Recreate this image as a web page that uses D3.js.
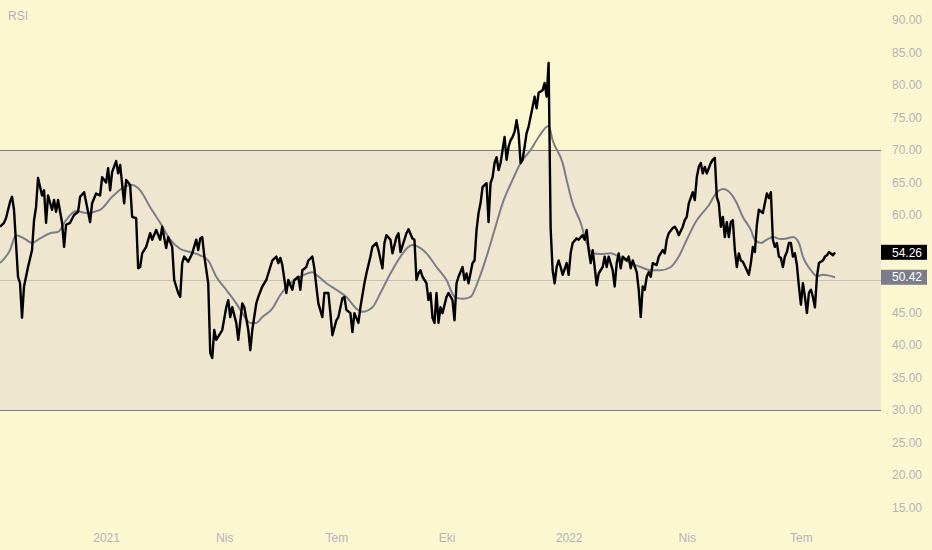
<!DOCTYPE html>
<html>
<head>
<meta charset="utf-8">
<script src="https://cdn.jsdelivr.net/npm/d3@7"></script>
<style>
  html, body { margin: 0; padding: 0; background: #fbf7d1; }
  svg { display: block; font-family: 'Liberation Sans', Arial, sans-serif; }
  .axis text { fill: #b4b5b8; font-size: 12px; }
  .axis path { display: none; }
</style>
</head>
<body>
<script>
// RSI (14) values by session index
var rsi = [
  [0,58.2],[2,58.8],[3,59.5],[5,62],[6,62.8],[7,60.8],[9,50.5],[10,49.5],[11,44.2],[12,49],
  [14,52],[16,54.6],[17,59.2],[18,61.2],[19,65.7],[21,63],[22,63.8],[23,58.8],[24,63],[26,60.8],
  [27,62.3],[28,60.5],[29,62.3],[31,58.8],[32,55.1],[33,58.5],[35,58.8],[37,60],[39,60.5],[40,62.8],
  [42,63.5],[43,62],[45,58.9],[46,61.8],[48,63.3],[50,63],[51,65.8],[53,65],[54,67.2],[55,63.8],
  [56,66.6],[58,68.3],[59,66.4],[60,67.7],[62,61.8],[63,65.4],[65,64.6],[66,59.7],[68,59.5],[69,51.8],
  [70,52],[71,54.1],[73,55.1],[75,57.2],[76,56.2],[78,57.7],[80,56.2],[81,58.2],[83,54.9],[84,56.6],
  [86,55.1],[87,50],[89,48],[90,47.4],[91,52.6],[92,53.6],[94,52.8],[96,54.1],[98,56.2],[99,54.6],
  [100,56.4],[101,56.6],[102,53.8],[104,49.5],[105,38.8],[106,38],[107,42.3],[108,40.8],[110,41.8],[111,42.3],
  [113,45.8],[114,46.9],[115,44.3],[116,45.8],[118,43.4],[119,40.8],[121,46.4],[122,45.8],[124,42.3],[125,39.2],
  [126,42.3],[128,46.4],[129,47.4],[131,49],[133,50],[134,51],[136,53],[138,53.6],[139,52.6],
  [140,53.4],[141,52.3],[143,48],[144,50],[146,48.5],[147,50],[149,50.5],[150,48.5],[151,51.5],[153,52],
  [154,53],[156,53.6],[157,51.8],[158,49],[159,46.4],[161,44.3],[162,48],[164,48],[165,44.9],[166,41.5],
  [168,43.8],[169,44.3],[171,47.2],[172,47.4],[173,45.4],[175,44.9],[176,42],[177,44.9],[179,43.4],[180,45.8],
  [182,49.5],[183,51],[185,53.6],[186,55.1],[188,55.7],[189,54.6],[191,51.8],[192,55.7],[193,56.9],[195,56.2],
  [196,54.1],[198,56.6],[199,57.2],[200,54.3],[202,56.2],[203,57.2],[204,57.8],[206,56.4],[207,56.2],[208,50],
  [209,51],[210,51.5],[211,50.5],[213,49.5],[214,46.9],[215,48],[216,44.2],[217,43.4],[218,48],[219,43.4],
  [220,45.8],[221,44.9],[223,47.4],[224,48],[226,46.9],[227,43.8],[228,49.5],[229,50.5],[231,52],[232,50],
  [233,51],[234,49.5],[236,52.6],[237,53],[238,57.7],[239,60.3],[240,61.8],[241,64.3],[243,64.9],[244,58.9],
  [245,64.9],[246,65.8],[247,68],[248,68.9],[249,66.9],[250,68],[251,70],[252,72],[253,68.5],[254,70.5],
  [255,71.5],[256,72],[257,72.8],[258,74.6],[259,72.6],[260,68],[261,68.5],[262,70.5],[263,72.6],[264,73.6],
  [265,75.1],[266,76.6],[267,78.2],[268,76.4],[269,78.8],[271,79.2],[272,80.3],[273,78.2],[274,83.4],[275,58],
  [276,51.5],[277,49.5],[278,52],[279,53],[280,52],[281,50.8],[283,52.6],[284,50.8],[285,54.1],[286,55.7],
  [288,56.4],[289,56.2],[291,56.9],[292,56.2],[293,57.7],[294,54.6],[295,52.6],[296,54.6],[297,52],[298,49.2],
  [299,51],[301,52],[302,53.6],[303,52],[304,53.6],[306,51.5],[307,49],[308,52.6],[309,54.1],[310,51.8],
  [311,53.6],[313,53],[314,53.6],[315,51.8],[316,53],[318,51.2],[319,48.5],[320,44.3],[321,49],[322,48.5],
  [323,50.5],[324,51.2],[325,50.5],[326,52.6],[328,52.3],[329,53.6],[331,54.6],[332,54.1],[333,56.2],[334,57.2],
  [336,58],[337,58.2],[338,57.7],[339,56.9],[341,58.2],[342,59.2],[343,59.7],[344,61.8],[346,63.5],[347,62.3],
  [348,65.8],[349,67.4],[350,68],[351,66.4],[352,67.4],[353,66.4],[355,68],[356,68.5],[357,68.8],[358,62.8],
  [359,61.8],[360,58.2],[361,59.7],[362,56.6],[363,58.9],[364,56.6],[365,58.9],[366,59.2],[367,54.6],[368,52],
  [369,54.1],[370,53],[371,52.8],[373,51.5],[374,50.8],[375,52.6],[376,55.1],[377,54.3],[378,58.5],[379,60.8],
  [381,60.3],[382,61.8],[383,63.3],[384,62.6],[385,63.5],[386,56.2],[387,55.1],[388,55.7],[389,53.6],[390,53.4],
  [391,52],[392,53.6],[393,54.3],[394,55.7],[395,55.7],[396,53.6],[397,54.1],[398,52.3],[399,49],[400,46.2],
  [401,49.5],[402,47.4],[403,44.9],[404,48],[405,48.5],[406,47.4],[407,45.8],[408,50.5],[409,52.6],[411,53],
  [412,53.6],[413,53.8],[414,54.3],[416,53.8],[417,54.26]
];

// RSI-based moving average
var rsiMa = [
  [0,52.6],[5,54.6],[8,56.9],[12,56.4],[16,55.7],[20,56.4],[25,57.2],[29,57.4],[33,59.2],[38,60.6],
  [43,60.3],[50,60.8],[56,62.8],[62,64.3],[66,64.6],[70,63.8],[75,61.2],[80,58.8],[85,56.2],[90,54.8],
  [95,54.3],[100,53.8],[104,53],[108,50.5],[113,48.5],[118,46.4],[121,44.9],[125,43.4],[128,43.4],[131,44.3],
  [136,45.6],[140,47.7],[145,49.5],[150,50.5],[156,51.2],[158,50.8],[163,49.5],[168,48.5],[173,47.4],[178,45.6],
  [181,45.1],[186,45.8],[190,48],[195,51],[200,53.6],[204,55.1],[206,55.4],[210,54.9],[213,54.1],[218,52],
  [223,50],[227,47.4],[231,47.1],[235,47.4],[239,50],[243,53.6],[247,57.7],[251,61.8],[256,65.4],[260,68],
  [265,70],[269,72],[274,73.7],[276,71.5],[281,68],[283,65.4],[286,61.8],[290,58.8],[293,55.7],[296,54.1],
  [300,54],[305,54.1],[310,53.4],[315,52.6],[320,52],[325,51.5],[330,51.5],[335,52],[339,53.6],[343,56.2],
  [348,59.2],[350,60],[354,61.5],[358,63.5],[361,64],[365,63.3],[368,61.8],[371,59.7],[375,57.7],[377,56.2],
  [380,55.7],[383,56.2],[386,56.6],[390,56.3],[393,56.4],[396,56.6],[399,55.7],[401,53.6],[405,51.5],[408,50.6],
  [411,50.8],[417,50.42]
];

var yTicks = [15, 20, 25, 30, 35, 40, 45, 50, 55, 60, 65, 70, 75, 80, 85, 90];
var bands = [30, 50, 70];
var timeTicks = [53, 112, 168, 223, 284, 343, 400];
var timeLabels = ['2021', 'Nis', 'Tem', 'Eki', '2022', 'Nis', 'Tem'];

var width = 932, height = 550;
var plotW = 881, plotB = 527;

var svg = d3.select('body').append('svg')
    .attr('width', width)
    .attr('height', height);

svg.append('rect')
    .attr('width', width)
    .attr('height', height)
    .attr('fill', '#fbf7d1');

var xScale = d3.scaleLinear()
    .domain([0, 440])
    .range([0, plotW]);

var yScale = d3.scaleLinear()
    .domain([15, 90])
    .range([507.5, 20]);

// 30-70 band
svg.append('rect')
    .attr('x', 0)
    .attr('y', yScale(70))
    .attr('width', plotW)
    .attr('height', yScale(30) - yScale(70))
    .attr('fill', '#efe6cf');

svg.selectAll('.level')
  .data(bands)
  .enter().append('line')
    .attr('class', 'level')
    .attr('x1', 0)
    .attr('x2', plotW)
    .attr('y1', function (d) { return Math.round(yScale(d)) + 0.5; })
    .attr('y2', function (d) { return Math.round(yScale(d)) + 0.5; })
    .attr('stroke', function (d) { return d === 50 ? '#c4c2b4' : '#7d7f8c'; })
    .attr('stroke-width', 1);

var line = d3.line()
    .x(function (d) { return xScale(d[0]); })
    .y(function (d) { return yScale(d[1]); });

svg.append('path')
    .attr('d', line.curve(d3.curveMonotoneX)(rsiMa))
    .attr('fill', 'none')
    .attr('stroke', '#7b7e8a')
    .attr('stroke-width', 2);

svg.append('path')
    .attr('d', line.curve(d3.curveLinear)(rsi))
    .attr('fill', 'none')
    .attr('stroke', '#000')
    .attr('stroke-width', 2.4)
    .attr('stroke-linejoin', 'round');

// last value labels
var lastVals = [
  { v: rsi[rsi.length - 1][1], fill: '#000' },
  { v: rsiMa[rsiMa.length - 1][1], fill: '#7b7e8a' }
];

// axes (price labels hidden where a last-value tag sits)
var yAxis = d3.axisRight(yScale)
    .tickValues(yTicks.filter(function (t) {
      return lastVals.every(function (l) { return Math.abs(yScale(t) - yScale(l.v)) > 12; });
    }))
    .tickSize(0)
    .tickPadding(11)
    .tickFormat(d3.format('.2f'));
svg.append('g')
    .attr('class', 'axis')
    .attr('transform', 'translate(' + plotW + ',0)')
    .call(yAxis);

var xAxis = d3.axisBottom(xScale)
    .tickValues(timeTicks)
    .tickSize(0)
    .tickPadding(6)
    .tickFormat(function (d, i) { return timeLabels[i]; });
svg.append('g')
    .attr('class', 'axis')
    .attr('transform', 'translate(0,' + plotB + ')')
    .call(xAxis);

var tags = svg.selectAll('.tag')
  .data(lastVals)
  .enter().append('g')
    .attr('class', 'tag')
    .attr('transform', function (d) { return 'translate(' + plotW + ',' + yScale(d.v) + ')'; });
tags.append('rect')
    .attr('x', 0)
    .attr('y', -7.5)
    .attr('width', 46)
    .attr('height', 15)
    .attr('fill', function (d) { return d.fill; });
tags.append('text')
    .attr('x', 11)
    .attr('dy', '0.35em')
    .attr('fill', '#fff')
    .style('font-size', '12px')
    .text(function (d) { return d3.format('.2f')(d.v); });

svg.append('text')
    .attr('x', 8)
    .attr('y', 20)
    .attr('fill', '#b4b5b8')
    .style('font-size', '12px')
    .text('RSI');
</script>
</body>
</html>
